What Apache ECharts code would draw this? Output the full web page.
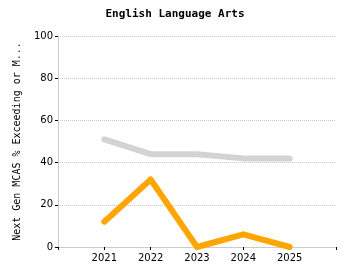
<!DOCTYPE html>
<html><head><meta charset="utf-8">
<script src="https://cdn.jsdelivr.net/npm/echarts@6/dist/echarts.min.js"></script>
<style>html,body{margin:0;padding:0;background:#fff}#c{width:350px;height:280px}</style>
</head><body><div id="c"></div>
<script>
var years = [2021, 2022, 2023, 2024, 2025];
var stateValues = [51, 44, 44, 42, 42];
var schoolValues = [12, 32, 0, 6, 0];
var yTicks = [0, 20, 40, 60, 80, 100];
var titleText = 'English Language Arts';
var yAxisName = 'Next Gen MCAS % Exceeding or M...';

function pairs(v){ return years.map(function(y,i){ return [y, v[i]]; }); }

var chart = echarts.init(document.getElementById('c'), null, {renderer:'canvas'});
chart.setOption({
  animation:false,
  title:{text:titleText,left:'center',top:4,textStyle:{fontFamily:'DejaVu Sans Mono',fontWeight:'bold',fontSize:11,color:'#000'}},
  grid:{left:58,right:14,top:36,bottom:33},
  xAxis:{type:'value',min:2020,max:2026,interval:1,
    axisLine:{lineStyle:{color:'#cccccc'}},
    axisTick:{show:true,length:3,lineStyle:{color:'#000'}},
    splitLine:{show:false},
    axisLabel:{color:'#000',fontFamily:'DejaVu Sans',fontSize:10,margin:6,
      formatter:function(v){ return years.indexOf(v)>=0 ? String(v) : ''; }}},
  yAxis:{type:'value',min:0,max:100,interval:20,
    name:yAxisName,nameLocation:'middle',nameGap:36,nameRotate:90,
    nameTextStyle:{fontFamily:'DejaVu Sans Mono',fontSize:10,color:'#000'},
    axisLine:{show:true,lineStyle:{color:'#cccccc'}},
    axisTick:{show:true,length:3,lineStyle:{color:'#000'}},
    splitLine:{lineStyle:{color:'#c8c8c8',type:'dotted'}},
    axisLabel:{color:'#000',fontFamily:'DejaVu Sans',fontSize:10,margin:5,
      formatter:function(v){ return yTicks.indexOf(v)>=0 ? String(v) : ''; }}},
  series:[
    {type:'line',data:pairs(stateValues),showSymbol:false,symbol:'none',
      lineStyle:{color:'#d3d3d3',width:6,cap:'round',join:'round'}},
    {type:'line',data:pairs(schoolValues),showSymbol:false,symbol:'none',
      lineStyle:{color:'#ffa500',width:6,cap:'round',join:'round'}}
  ]
});
</script></body></html>
